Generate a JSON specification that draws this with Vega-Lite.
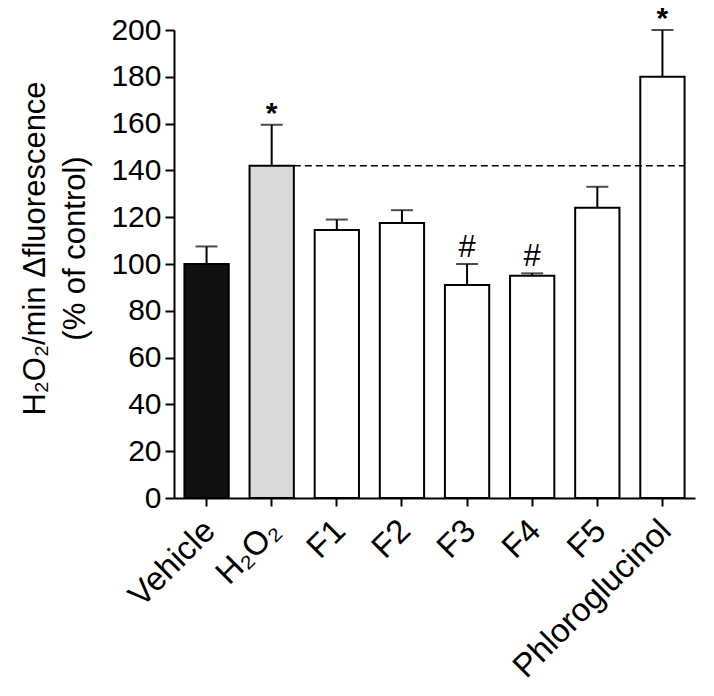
{
  "$schema": "https://vega.github.io/schema/vega-lite/v6.json",
  "width": 521,
  "height": 468,
  "autosize": "none",
  "padding": {"left": 174, "top": 30, "right": 19, "bottom": 198},
  "background": "white",
  "config": {
    "view": {"stroke": null},
    "font": "Liberation Sans",
    "axis": {
      "domainColor": "black",
      "domainWidth": 2,
      "tickColor": "black",
      "tickWidth": 2,
      "tickSize": 8,
      "labelColor": "black",
      "labelFont": "Liberation Sans",
      "labelFontSize": 30,
      "titleColor": "black",
      "titleFont": "Liberation Sans",
      "titleFontWeight": "normal",
      "grid": false
    }
  },
  "data": {
    "values": [
      {"group": "Vehicle", "kind": "vehicle", "mean": 100, "upper": 107.5, "sig": ""},
      {"group": "H₂O₂", "kind": "h2o2", "mean": 142, "upper": 159.5, "sig": "*"},
      {"group": "F1", "kind": "test", "mean": 114.5, "upper": 119, "sig": ""},
      {"group": "F2", "kind": "test", "mean": 117.5, "upper": 123, "sig": ""},
      {"group": "F3", "kind": "test", "mean": 91, "upper": 100, "sig": "#"},
      {"group": "F4", "kind": "test", "mean": 95, "upper": 96, "sig": "#"},
      {"group": "F5", "kind": "test", "mean": 124, "upper": 133, "sig": ""},
      {"group": "Phloroglucinol", "kind": "test", "mean": 180, "upper": 200, "sig": "*"}
    ]
  },
  "encoding": {
    "x": {
      "field": "group",
      "type": "nominal",
      "sort": null,
      "scale": {"paddingInner": 0.32, "paddingOuter": 0.16},
      "axis": {"title": null, "labelAngle": -45, "labelPadding": 8, "labelOffset": -8, "labelFontSize": 33, "labelLimit": 0, "domain": true}
    }
  },
  "layer": [
    {
      "mark": {"type": "rule", "color": "black", "strokeWidth": 2},
      "encoding": {
        "y": {"field": "mean", "type": "quantitative"},
        "y2": {"field": "upper"}
      }
    },
    {
      "mark": {"type": "tick", "color": "black", "thickness": 2, "size": 22, "orient": "horizontal"},
      "encoding": {
        "y": {"field": "upper", "type": "quantitative"}
      }
    },
    {
      "mark": {"type": "bar", "stroke": "black", "strokeWidth": 2},
      "encoding": {
        "y": {
          "field": "mean",
          "type": "quantitative",
          "scale": {"domain": [0, 200], "nice": false},
          "axis": {
            "title": ["H₂O₂/min Δfluorescence", "(% of control)"],
            "titleFontSize": 31,
            "titleLineHeight": 40,
            "titlePadding": 19,
            "titleY": 218,
            "values": [0, 20, 40, 60, 80, 100, 120, 140, 160, 180, 200],
            "labelPadding": 4,
            "tickSize": 9
          }
        },
        "fill": {
          "field": "kind",
          "type": "nominal",
          "scale": {"domain": ["vehicle", "h2o2", "test"], "range": ["#111111", "#d9d9d9", "#ffffff"]},
          "legend": null
        }
      }
    },
    {
      "data": {"values": [{"from": "H₂O₂", "to": "Phloroglucinol", "level": 142}]},
      "mark": {"type": "rule", "color": "black", "strokeWidth": 1.5, "strokeDash": [7, 4]},
      "encoding": {
        "x": {"field": "from", "type": "nominal", "bandPosition": 1},
        "x2": {"field": "to", "bandPosition": 1},
        "y": {"field": "level", "type": "quantitative"}
      }
    },
    {
      "transform": [{"filter": "datum.sig == '#'"}],
      "mark": {"type": "text", "fontSize": 31, "baseline": "alphabetic", "dy": -7, "color": "black"},
      "encoding": {
        "y": {"field": "upper", "type": "quantitative"},
        "text": {"field": "sig"}
      }
    },
    {
      "transform": [{"filter": "datum.sig == '*'"}],
      "mark": {"type": "text", "fontSize": 30, "fontWeight": "bold", "baseline": "alphabetic", "dy": -2, "color": "black"},
      "encoding": {
        "y": {"field": "upper", "type": "quantitative"},
        "text": {"field": "sig"}
      }
    }
  ]
}
